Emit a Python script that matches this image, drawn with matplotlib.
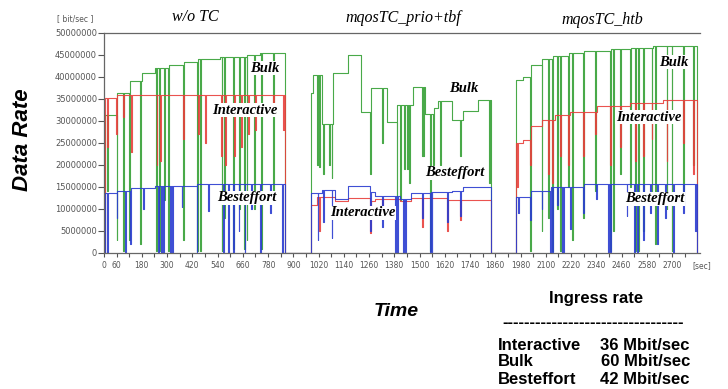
import matplotlib
matplotlib.use("Agg")
import matplotlib.pyplot as plt
import numpy as np

# Step levels in Mbit/sec; each run ends with a drop back to zero.
# Runs: w/o TC (0-860 s), mqosTC_prio+tbf (982-1838 s), mqosTC_htb (1958-2817 s)
bulk_t = [0, 4, 60, 124, 179, 242, 306, 377, 448, 551, 678, 741, 860,
          982, 992, 1035, 1090, 1161, 1221, 1269, 1343, 1391, 1470, 1526, 1565,
          1589, 1652, 1708, 1779, 1838,
          1958, 1993, 2025, 2080, 2128, 2207, 2278, 2405, 2500, 2611, 2817]
bulk_v = [0, 31.4, 36.4, 39.2, 41.0, 42.0, 42.7, 43.5, 44.0, 44.6, 45.0, 45.5, 0,
          36.4, 40.5, 29.3, 40.8, 45.0, 32.1, 37.4, 29.8, 33.6, 37.7, 31.7, 33.0,
          34.5, 30.2, 32.3, 34.8, 0,
          39.3, 40.0, 42.7, 44.0, 44.8, 45.4, 46.0, 46.3, 46.7, 47.0, 0]

inter_t = [0, 4, 60, 860,
           982, 1011, 1098, 1161, 1264, 1288, 1407, 1458, 1629, 1838,
           1958, 1993, 2025, 2080, 2144, 2215, 2342, 2500, 2658, 2817]
inter_v = [0, 35.2, 35.9, 0,
           10.9, 12.7, 11.8, 12.4, 11.8, 12.2, 11.8, 12.4, 12.0, 0,
           24.9, 25.7, 28.9, 30.2, 31.4, 32.1, 33.3, 34.2, 34.8, 0]

best_t = [0, 4, 60, 124, 242, 444, 860,
          982, 1035, 1098, 1161, 1264, 1288, 1407, 1458, 1549, 1652, 1708, 1838,
          1958, 2025, 2120, 2278, 2817]
best_v = [0, 13.6, 14.2, 14.7, 15.2, 15.7, 0,
          13.6, 14.3, 12.2, 15.2, 13.9, 13.0, 12.2, 13.7, 13.9, 14.2, 15.1, 0,
          12.8, 14.1, 14.9, 15.6, 0]

# short dropouts: time (sec) and the value reached (Mbit/sec)
bulk_dip_t = [16, 60, 89, 120, 171, 247, 263, 285, 306, 374, 444, 456, 559, 570,
              615, 643, 665, 678, 713, 745, 805,
              1011, 1023, 1042, 1071, 1082, 1264, 1320, 1391, 1407, 1426, 1442,
              1451, 1510, 1518, 1549, 1565, 1597, 1692, 1830,
              2025, 2080, 2112, 2128, 2155, 2167, 2207, 2223, 2278, 2334, 2405,
              2421, 2452, 2500, 2524, 2540, 2563, 2603, 2619, 2674, 2698, 2753, 2801]
bulk_dip_v = [14, 3, 0.5, 3, 2, 0.5, 0.5, 12, 0.5, 3, 0.5, 0.5, 0.5, 8,
              1, 10, 1, 3, 10, 1, 12,
              20, 19.6, 18, 20, 17, 18, 25, 13, 12, 19, 19,
              16, 22, 22, 0.5, 20, 20, 22, 16,
              0.5, 5, 8, 0.5, 10, 0.5, 15, 3, 8, 14, 0.5,
              5, 18, 15, 0.5, 0.5, 5, 12, 2, 10, 0.5, 14, 20]

inter_dip_t = [16, 58, 92, 130, 250, 268, 377, 448, 480, 556, 575, 620, 650, 684,
               718, 805, 850,
               1023, 1264, 1320, 1510, 1629, 1692,
               1962, 2025, 2112, 2128, 2167, 2207, 2278, 2334, 2405, 2452, 2524,
               2563, 2603, 2674, 2753, 2801]
inter_dip_v = [24, 27, 31, 23, 20, 21, 26, 27, 25, 22, 20, 22, 24, 27,
               28, 32, 28,
               5, 4.5, 8, 6, 5, 7.5,
               15, 20, 18, 16, 22, 20, 22, 27, 20, 24, 21,
               22, 26, 21, 25, 18]

best_dip_t = [15, 60, 100, 124, 187, 257, 270, 280, 314, 323, 369, 440, 495, 566,
              590, 615, 640, 668, 700, 742, 790, 845,
              1015, 1042, 1082, 1264, 1320, 1383, 1394, 1423, 1431, 1510, 1549,
              1557, 1629, 1692,
              1970, 2025, 2080, 2120, 2128, 2152, 2175, 2183, 2215, 2278, 2339,
              2397, 2405, 2484, 2521, 2532, 2563, 2595, 2627, 2666, 2706, 2753, 2808]
best_dip_v = [0, 8, 0, 2, 10, 0, 0, 0, 0, 0, 10.5, 0, 9.5, 0,
              0, 0, 5, 0, 10, 0, 9, 0,
              3, 7, 3.5, 5, 6, 0, 0, 0, 0, 8, 0,
              0, 7, 8.5,
              9, 7.5, 10, 0, 0, 11, 0, 0, 5.5, 9, 12.3,
              0, 0, 8.3, 0, 0, 3, 9, 2, 8, 0, 9, 5]

y_ticks = [0, 5000000, 10000000, 15000000, 20000000, 25000000,
           30000000, 35000000, 40000000, 45000000, 50000000]
x_ticks = list(range(0, 2761, 60))
x_labels = [0, 60] + list(range(180, 2701, 120))

run_titles = ["w/o TC", "mqosTC_prio+tbf", "mqosTC_htb"]
ingress = [("Interactive", "36 Mbit/sec"), ("Bulk", "60 Mbit/sec"),
           ("Besteffort", "42 Mbit/sec")]

W, H = 728, 389


def px(x, y):
    return x / W, 1 - y / H


def series(times, values, dip_t, dip_v, w=4.0):
    times = np.asarray(times, float)
    values = np.asarray(values, float)
    dip_t = np.asarray(dip_t, float)
    ev = np.sort(np.concatenate([times, dip_t, dip_t + w]))
    idx = np.clip(np.searchsorted(times, ev, side="right") - 1, 0, None)
    y = values[idx].copy()
    for t, b in zip(dip_t, dip_v):
        y[(ev >= t) & (ev < t + w)] = b
    return ev, y * 1e6


fig = plt.figure(figsize=(W / 100, H / 100), dpi=100)
ax = fig.add_axes([104 / W, 1 - 253 / H, 596 / W, 220 / H])

for t, v, dt, dv, c in [
    (bulk_t, bulk_v, bulk_dip_t, bulk_dip_v, "#35a035"),
    (inter_t, inter_v, inter_dip_t, inter_dip_v, "#e8403c"),
    (best_t, best_v, best_dip_t, best_dip_v, "#2a3cd0"),
]:
    x, y = series(t, v, dt, dv)
    ax.step(x, y, where="post", color=c, lw=0.8, alpha=0.9)

ax.set_xlim(0, 2833)
ax.set_ylim(0, 50e6)
ax.spines["right"].set_visible(False)
for s in ["top", "left", "bottom"]:
    ax.spines[s].set_color("#666666")
    ax.spines[s].set_linewidth(0.9)

ax.set_yticks(y_ticks)
ax.set_yticklabels([str(v) for v in y_ticks])
ax.set_xticks(x_ticks)
ax.set_xticklabels([str(v) if v in x_labels else "" for v in x_ticks])
ax.tick_params(axis="y", labelsize=6, colors="#555555", length=4, pad=1)
ax.tick_params(axis="x", labelsize=5.5, colors="#555555", length=3, pad=3)
ax.text(2842, -0.035, "[sec]", transform=ax.get_xaxis_transform(),
        fontsize=5.5, color="#555555", ha="center", va="top", clip_on=False)

ann = dict(family="Liberation Serif", style="italic", weight="bold", fontsize=10.5,
           ha="center", va="center",
           bbox=dict(facecolor="white", edgecolor="none", pad=0.5))
for (t, v, s) in [(765, 42.0, "Bulk"), (670, 32.5, "Interactive"), (680, 12.5, "Besteffort"),
                  (1711, 37.5, "Bulk"), (1668, 18.2, "Besteffort"), (1231, 9.1, "Interactive"),
                  (2709, 43.4, "Bulk"), (2590, 30.9, "Interactive"), (2619, 12.3, "Besteffort")]:
    ax.text(t, v * 1e6, s, **ann)

for (x, y), s in zip([(195, 17), (403, 18), (602, 20)], run_titles):
    fig.text(*px(x, y), s, family="Liberation Serif", style="italic",
             fontsize=11.5, ha="center", va="center")

fig.text(*px(75, 19), "[ bit/sec ]", fontsize=5.5, color="#555555",
         ha="center", va="center")
fig.text(*px(23, 140), "Data Rate", rotation=90, family="Liberation Sans",
         weight="bold", style="italic", fontsize=16, ha="center", va="center")
fig.text(*px(396, 312), "Time", family="Liberation Sans", weight="bold",
         style="italic", fontsize=14, ha="center", va="center")

bold = dict(family="Liberation Sans", weight="bold", fontsize=12, va="center")
fig.text(*px(596, 298), "Ingress rate", ha="center", **bold)
fig.text(*px(593, 323), "-" * 33, ha="center", **bold)
for i, (name, rate) in enumerate(ingress):
    fig.text(*px(498, 345 + 17 * i), name, ha="left", **bold)
    fig.text(*px(690, 345 + 17 * i), rate, ha="right", **bold)

fig.savefig("out.png", dpi=100)
